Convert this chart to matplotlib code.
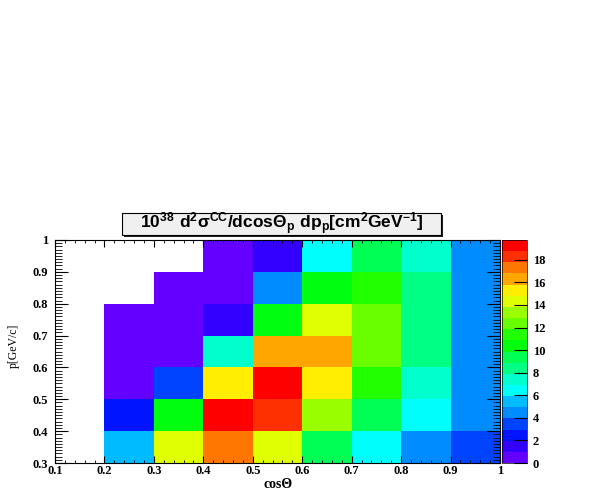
import colorsys
import numpy as np
import matplotlib; matplotlib.use('Agg')
import matplotlib.pyplot as plt
from matplotlib.colors import ListedColormap, BoundaryNorm
from matplotlib.patches import Rectangle
from matplotlib.ticker import MultipleLocator

plt.rcParams['mathtext.fontset'] = 'custom'
plt.rcParams['mathtext.bf'] = 'Liberation Sans:bold'
plt.rcParams['mathtext.rm'] = 'Liberation Sans:bold'

# bin edges
cos_edges = [0.1, 0.2, 0.3, 0.4, 0.5, 0.6, 0.7, 0.8, 0.9, 1.0]
p_edges = [0.3, 0.4, 0.5, 0.6, 0.7, 0.8, 0.9, 1.0]

# 10^38 d2sigma/dcos dp, one list per p bin (low -> high), nan = empty bin
p_03 = [np.nan, 5.5, 14.6, 17.4, 14.5, 9.4, 6.6, 4.5, 3.4]
p_04 = [np.nan, 2.5, 10.3, 19.3, 18.3, 13.4, 9.5, 6.5, 4.6]
p_05 = [np.nan, 0.6, 3.5, 15.4, 19.75, 15.3, 11.5, 7.4, 4.5]
p_06 = [np.nan, 0.5, 0.6, 7.5, 16.4, 16.3, 12.5, 8.5, 4.6]
p_07 = [np.nan, 0.5, 0.7, 1.5, 10.4, 14.5, 12.4, 8.4, 4.5]
p_08 = [np.nan, np.nan, 0.6, 0.7, 4.5, 10.5, 11.5, 8.6, 4.7]
p_09 = [np.nan, np.nan, np.nan, 0.6, 1.6, 6.5, 9.5, 7.5, 4.6]

Z = np.ma.masked_invalid(np.array([p_03, p_04, p_05, p_06, p_07, p_08, p_09]))
zmax = float(Z.max())

# ROOT "pretty palette" (HLS violet -> red), 20 contours
NCONT = 20
pal = []
for i in range(49):
    hue = 280 - (i + 1) * 280 / 50
    pal.append(colorsys.hls_to_rgb(hue / 360, 0.5, 1.0))
pal.append((1, 0, 0))
cols = [pal[int((k + 0.99) * 50 / NCONT)] for k in range(NCONT)]
cmap = ListedColormap(cols)
levels = np.linspace(0, zmax, NCONT + 1)
norm = BoundaryNorm(levels, cmap.N)

fig = plt.figure(figsize=(5.99, 4.91), dpi=100)
ax = fig.add_axes([55/599, 1 - 463/491, 445/599, 223/491])
cax = fig.add_axes([502/599, 1 - 463/491, 25/599, 223/491])

mesh = ax.pcolormesh(cos_edges, p_edges, Z, cmap=cmap, norm=norm)
ax.set_xlim(0.1, 1.0)
ax.set_ylim(0.3, 1.0)

tfont = dict(family='Liberation Serif', weight='bold', size=9)
ax.xaxis.set_minor_locator(MultipleLocator(0.02))
ax.yaxis.set_minor_locator(MultipleLocator(0.01))
ax.set_xticks(np.arange(0.1, 1.01, 0.1))
ax.set_xticklabels(['0.1', '0.2', '0.3', '0.4', '0.5', '0.6', '0.7', '0.8', '0.9', '1'], **tfont)
ax.set_yticks(np.arange(0.3, 1.01, 0.1))
ax.set_yticklabels(['0.3', '0.4', '0.5', '0.6', '0.7', '0.8', '0.9', '1'], **tfont)
ax.tick_params(axis='x', which='major', direction='in', length=4.8, width=0.8,
               top=True, pad=1.5)
ax.tick_params(axis='x', which='minor', direction='in', length=2.4, width=0.6, top=True)
ax.tick_params(axis='y', which='major', direction='in', length=9.4, width=0.8,
               right=True, pad=5)
ax.tick_params(axis='y', which='minor', direction='in', length=4.8, width=0.6, right=True)
for s in ax.spines.values():
    s.set_linewidth(0.8)

fig.text(278/599, 1 - 485/491, 'cosΘ', ha='center', va='center',
         family='Liberation Serif', weight='bold', size=10)
fig.text(14/599, 1 - 346/491, 'p[GeV/c]', ha='center', va='center', rotation=90,
         family='Liberation Serif', size=8.5)

cb = fig.colorbar(mesh, cax=cax, ticks=np.arange(0, 19, 2))
cb.outline.set_linewidth(0.5)
cax.set_yticklabels([str(v) for v in range(0, 19, 2)], **tfont)
cax.tick_params(direction='in', length=9.5, width=0.8, pad=4)
cax.minorticks_off()

# title pave with shadow
bx, by, bw, bh = 122/599, 1 - 235/491, 319/599, 22/491
fig.patches.append(Rectangle((bx + 2/599, by - 2/491), bw, bh, transform=fig.transFigure,
                             fc='#202020', ec='none', zorder=1))
fig.patches.append(Rectangle((bx, by), bw, bh, transform=fig.transFigure,
                             fc='#f0f0f0', ec='black', lw=0.8, zorder=2))
fig.text(282/599, 1 - 224/491,
         r'$\mathbf{10^{38}\ d^{2}σ^{CC}/dcosΘ_{p}\ dp_{p}[cm^{2}GeV^{-1}]}$',
         ha='center', va='center', size=12.5, zorder=3)

fig.savefig('out.png', dpi=100)
